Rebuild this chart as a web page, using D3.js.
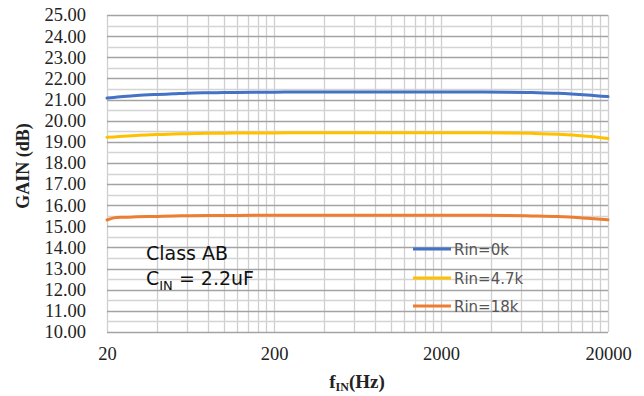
<!DOCTYPE html>
<html>
<head>
<meta charset="utf-8">
<script src="https://cdn.jsdelivr.net/npm/d3@7"></script>
<style>
  html, body { margin: 0; padding: 0; background: #fff; }
  svg { display: block; }
  .tick-label { font-family: "Liberation Serif", "Times New Roman", serif; font-size: 18.5px; fill: #222; }
  .axis-title { font-family: "Liberation Serif", "Times New Roman", serif; font-weight: bold; fill: #222; }
  .note { font-family: "DejaVu Sans", sans-serif; fill: #111; font-size: 19px; }
  .legend-label { font-family: "DejaVu Sans", sans-serif; font-size: 15px; fill: #555; }
</style>
</head>
<body>
<svg id="chart" width="644" height="396"></svg>
<script>
// Frequency points (Hz)
const freqs = [20, 22, 25, 30, 40, 50, 60, 80, 100, 150, 200, 300, 500, 1000, 2000, 3000, 5000, 7000, 10000, 15000, 20000];

// Gain (dB) per input resistance
const gainRin0k  = [21.07, 21.10, 21.14, 21.19, 21.24, 21.27, 21.30, 21.32, 21.33, 21.34, 21.35, 21.36, 21.36, 21.36, 21.36, 21.36, 21.35, 21.33, 21.30, 21.22, 21.14];
const gainRin4k7 = [19.21, 19.23, 19.26, 19.30, 19.34, 19.37, 19.38, 19.40, 19.41, 19.42, 19.42, 19.43, 19.43, 19.43, 19.43, 19.43, 19.42, 19.40, 19.36, 19.26, 19.16];
const gainRin18k = [15.30, 15.40, 15.43, 15.45, 15.47, 15.49, 15.50, 15.51, 15.51, 15.52, 15.52, 15.52, 15.52, 15.52, 15.52, 15.52, 15.51, 15.49, 15.46, 15.38, 15.31];

const seriesNames = ["Rin=0k", "Rin=4.7k", "Rin=18k"];
const seriesColors = ["#4472C4", "#FFC000", "#ED7D31"];

const xTickValues = [20, 200, 2000, 20000];
const yTickValues = d3.range(10, 25.001, 1);

const svg = d3.select("#chart");
const plotL = 107, plotR = 608, plotT = 15, plotB = 332;

const x = d3.scaleLog().domain([20, 20000]).range([plotL, plotR]);
const y = d3.scaleLinear().domain([10, 25]).range([plotB, plotT]);

// Vertical log gridlines: 20·k·10^n
const vGrid = [];
[20, 200, 2000].forEach(base => { for (let k = 1; k <= 10; k++) vGrid.push(base * k); });
const grid = svg.append("g");
grid.selectAll("line.v").data(Array.from(new Set(vGrid))).join("line")
  .attr("x1", d => Math.round(x(d)) + 0.5).attr("x2", d => Math.round(x(d)) + 0.5)
  .attr("y1", plotT).attr("y2", plotB)
  .attr("stroke", "#cfcfcf").attr("stroke-width", 1.3);

// Horizontal gridlines: minor every 0.5, major every 1
const hMinor = d3.range(10.5, 25, 1);
grid.selectAll("line.hm").data(hMinor).join("line")
  .attr("x1", plotL).attr("x2", plotR)
  .attr("y1", d => Math.round(y(d)) + 0.5).attr("y2", d => Math.round(y(d)) + 0.5)
  .attr("stroke", "#d4d4d4").attr("stroke-width", 1.3);
grid.selectAll("line.hM").data(yTickValues).join("line")
  .attr("x1", plotL).attr("x2", plotR)
  .attr("y1", d => Math.round(y(d)) + 0.5).attr("y2", d => Math.round(y(d)) + 0.5)
  .attr("stroke", "#a3a3a3").attr("stroke-width", 1.3);

// Axes: d3 places the ticks, each tick gets a serif label
const yAxis = svg.append("g").attr("transform", `translate(${plotL},0)`)
  .call(d3.axisLeft(y).tickValues(yTickValues).tickFormat("").tickSize(0));
yAxis.select(".domain").remove();
yAxis.selectAll(".tick text").remove();
yAxis.selectAll(".tick").append("text")
  .attr("class", "tick-label")
  .attr("x", -21).attr("dy", "0.32em")
  .attr("text-anchor", "end")
  .text(d => d3.format(".2f")(d));

const xAxis = svg.append("g").attr("transform", `translate(0,${plotB})`)
  .call(d3.axisBottom(x).tickValues(xTickValues).tickFormat("").tickSize(0));
xAxis.select(".domain").remove();
xAxis.selectAll(".tick text").remove();
xAxis.selectAll(".tick").append("text")
  .attr("class", "tick-label")
  .attr("y", 28)
  .attr("text-anchor", "middle")
  .text(d => d3.format("d")(d));

// Series lines
const allSeries = [gainRin0k, gainRin4k7, gainRin18k];
const line = d3.line().x((d, i) => x(freqs[i])).y(d => y(d)).curve(d3.curveMonotoneX);
svg.append("g").selectAll("path").data(allSeries).join("path")
  .attr("d", d => line(d))
  .attr("fill", "none")
  .attr("stroke", (d, i) => seriesColors[i])
  .attr("stroke-width", 3)
  .attr("stroke-linecap", "round");

// Axis titles
svg.append("text")
  .attr("class", "axis-title")
  .attr("transform", "translate(29,166) rotate(-90)")
  .attr("text-anchor", "middle")
  .style("font-size", "18px")
  .text("GAIN (dB)");

const xt = svg.append("text")
  .attr("class", "axis-title")
  .attr("x", 357).attr("y", 388)
  .attr("text-anchor", "middle")
  .style("font-size", "19px");
xt.append("tspan").text("f");
xt.append("tspan").style("font-size", "12px").attr("dy", 3).text("IN");
xt.append("tspan").attr("dy", -3).text("(Hz)");

// Annotation
svg.append("text").attr("class", "note").attr("x", 146).attr("y", 260).text("Class AB");
const c = svg.append("text").attr("class", "note").attr("x", 146).attr("y", 285);
c.append("tspan").text("C");
c.append("tspan").style("font-size", "13px").attr("dy", 5).text("IN");
c.append("tspan").attr("dy", -5).text(" = 2.2uF");

// Legend
const legend = svg.append("g");
const legY = [249, 278, 306];
seriesNames.forEach((name, i) => {
  legend.append("line")
    .attr("x1", 413).attr("x2", 451).attr("y1", legY[i]).attr("y2", legY[i])
    .attr("stroke", seriesColors[i]).attr("stroke-width", 3);
  legend.append("text")
    .attr("class", "legend-label")
    .attr("x", 454).attr("y", legY[i] + 5.5)
    .text(name);
});
</script>
</body>
</html>
